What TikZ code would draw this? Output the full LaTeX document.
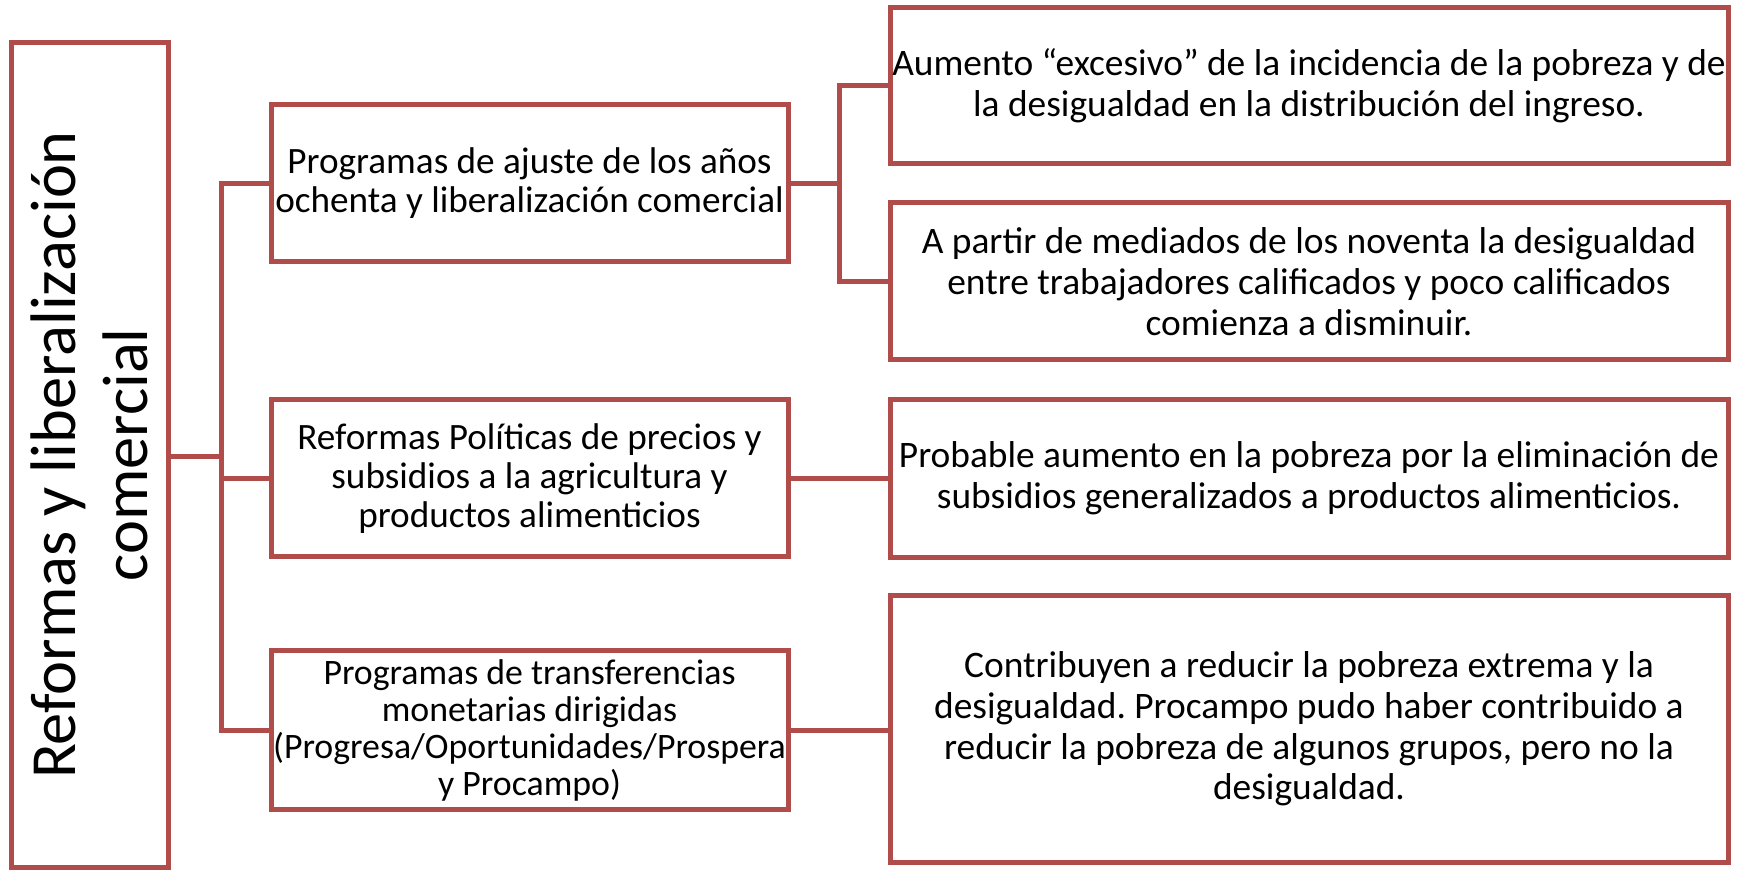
\documentclass[tikz,border=0pt]{standalone}
\usepackage{fontspec}
\setmainfont{Carlito}
\frenchspacing
\definecolor{boxred}{RGB}{176,76,74}
\begin{document}
\begin{tikzpicture}[x=0.5pt,y=-0.5pt,
  box/.style={draw=boxred, line width=2.5pt, inner sep=0pt, align=center, text=black, fill=white},
  conn/.style={draw=boxred, line width=2.5pt},
  fsmid/.style={font=\fontsize{18.6}{19.5}\selectfont},
  fssmall/.style={font=\fontsize{17.9}{18.5}\selectfont},
  fsbig/.style={font=\fontsize{18.7}{20.4}\selectfont}]
\useasboundingbox (0,0) rectangle (1739,870);
\node[box, rotate=90, minimum width=412pt, minimum height=78.5pt, font=\fontsize{32.2}{36}\selectfont] (big) at (89.5,455) {Reformas y liberalización\\comercial};
\node[box, fsmid, minimum width=258.5pt, minimum height=78.5pt] (A) at (529.5,183.5) {Programas de ajuste de los años\\ochenta y liberalización comercial};
\node[box, fsmid, minimum width=258.5pt, minimum height=78.5pt] (B) at (529.5,478.5) {Reformas Políticas de precios y\\subsidios a la agricultura y\\productos alimenticios};
\node[box, fssmall, minimum width=258.5pt, minimum height=79pt] (C) at (529.5,730) {Programas de transferencias\\monetarias dirigidas\\(Progresa/Oportunidades/Prospera\\y Procampo)};
\node[box, fsbig, minimum width=419pt, minimum height=78pt] (D) at (1309,86) {Aumento “excesivo” de la incidencia de la pobreza y de\\la desigualdad en la distribución del ingreso.};
\node[box, fsbig, minimum width=419pt, minimum height=78.5pt] (E) at (1309,281.5) {A partir de mediados de los noventa la desigualdad\\entre trabajadores calificados y poco calificados\\comienza a disminuir.};
\node[box, fsbig, minimum width=419pt, minimum height=79pt] (F) at (1309,478.5) {Probable aumento en la pobreza por la eliminación de\\subsidios generalizados a productos alimenticios.};
\node[box, fsbig, minimum width=419pt, minimum height=133pt] (G) at (1309,729) {Contribuyen a reducir la pobreza extrema y la\\desigualdad. Procampo pudo haber contribuido a\\reducir la pobreza de algunos grupos, pero no la\\desigualdad.};
\coordinate (tk) at (221,457);
\coordinate (tk2) at (839,183.5);
\draw[conn] (big.south |- tk) -- (tk);
\draw[conn] (A.west) -| (tk) |- (C.west);
\draw[conn] (B.west) -- (B.west -| tk);
\draw[conn] (A.east) -- (tk2);
\draw[conn] (D.west) -| (tk2) |- (E.west);
\draw[conn] (B.east) -- (B.east -| F.west);
\draw[conn] (C.east) -- (C.east -| G.west);
\end{tikzpicture}
\end{document}
